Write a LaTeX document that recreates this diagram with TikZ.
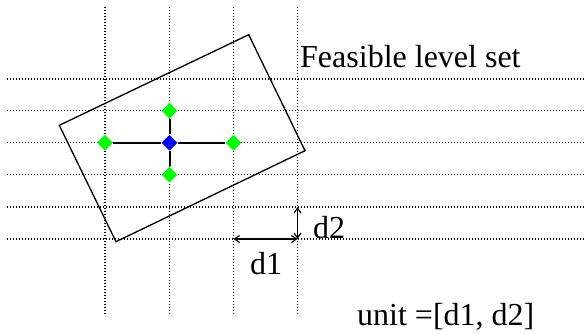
\documentclass[tikz,border=0pt]{standalone}
\usepackage{fontspec}
\setmainfont{Liberation Serif}
\usepackage{xcolor}
\usetikzlibrary{shapes.geometric, arrows.meta, positioning}
\definecolor{pointgreen}{RGB}{0, 255, 0}
\definecolor{pointblue}{RGB}{0, 0, 255}
\tikzstyle{gridline} = [
    line width=1.3pt,
    dash pattern=on 1.3pt off 1.7pt
]
\tikzstyle{point} = [
    diamond,
    inner sep=0pt,
    minimum size=16pt,
    fill=pointgreen
]
\tikzstyle{stepline} = [
    line width=2pt,
    black
]
\tikzstyle{dimarrow} = [
    line width=1.2pt,
    {Straight Barb[length=5pt, width=7pt]}-{Straight Barb[length=5pt, width=7pt]}
]
\tikzstyle{label} = [
    inner sep=0pt,
    anchor=base west,
    font=\fontsize{32}{38}\selectfont
]

\begin{document}
\begin{tikzpicture}[x=1pt, y=-1pt]
        \useasboundingbox (0,0) rectangle (584,334);
        % Grid
        \foreach \gx in {105, 169.5, 233.5, 297.5}
            \draw[gridline] (\gx, 7) -- (\gx, 316);
        \foreach \gy in {79, 110.7, 142.7, 174.7, 207, 239}
            \draw[gridline] (7, \gy) -- (584, \gy);

        % Level set
        \coordinate (c1) at (59.3, 125.3);
        \coordinate (c2) at (248.7, 34.7);
        \coordinate (c3) at (305, 150.7);
        \coordinate (c4) at (116, 241.7);
        \draw[line width=1.3pt] (c1) -- (c2) -- (c3) -- (c4) -- cycle;

        % Points
        \node[point, fill=pointblue] (centre) at (169.5, 142.7) {};
        \node[point] (west) at (105, 142.7) {};
        \node[point] (east) at (233.5, 142.7) {};
        \node[point] (north) at (169.5, 110.7) {};
        \node[point] (south) at (169.5, 174.7) {};
        \draw[stepline] (west) -- (centre) -- (east);
        \draw[stepline] (north) -- (centre) -- (south);

        % Unit arrows
        \coordinate (d1start) at (233.5, 239);
        \coordinate (corner) at (297.5, 239);
        \coordinate (d2end) at (297.5, 207);
        \draw[dimarrow] (d1start) -- (corner);
        \draw[dimarrow] (d2end) -- (corner);

        % Labels
        \node[label] (title) at (300, 68) {Feasible level set};
        \node[label] (dtwo) at (313, 238) {d2};
        \node[label] (done) at (250, 274) {d1};
        \node[label] (unit) at (357, 325) {unit =[d1, d2]};
    \end{tikzpicture}
\end{document}
